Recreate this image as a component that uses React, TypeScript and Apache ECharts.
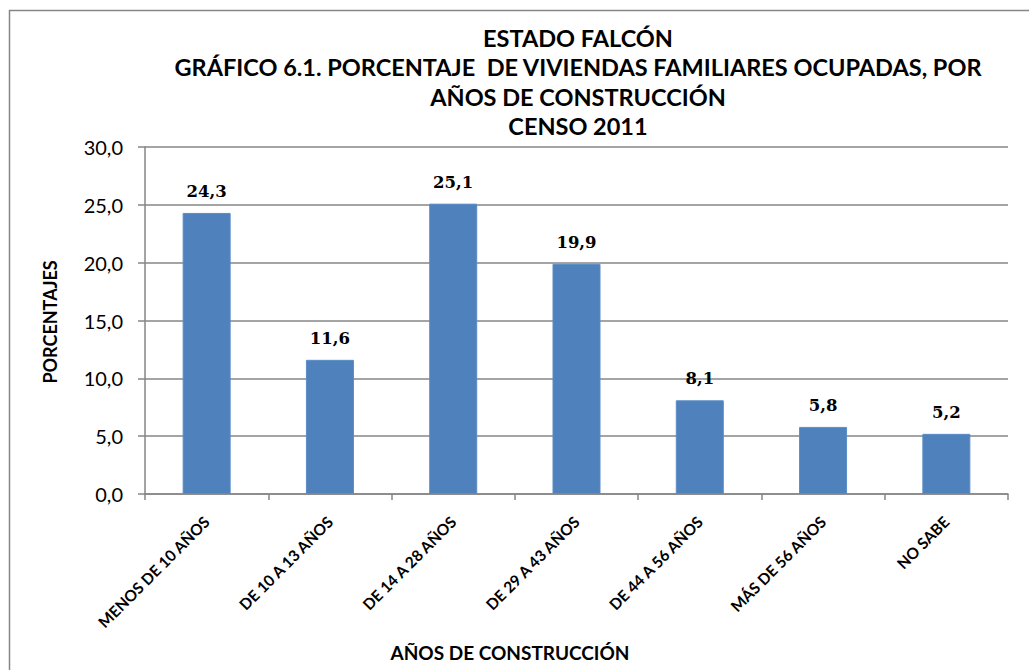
import React, { useEffect, useRef } from "react";
import * as echarts from "echarts";

const categories = [
  "MENOS DE 10 AÑOS",
  "DE 10 A 13 AÑOS",
  "DE 14 A 28 AÑOS",
  "DE 29 A 43 AÑOS",
  "DE 44 A 56 AÑOS",
  "MÁS DE 56 AÑOS",
  "NO SABE",
];
const values = [24.3, 11.6, 25.1, 19.9, 8.1, 5.8, 5.2];
const titleLines = [
  "ESTADO FALCÓN",
  "GRÁFICO 6.1. PORCENTAJE  DE VIVIENDAS FAMILIARES OCUPADAS, POR",
  "AÑOS DE CONSTRUCCIÓN",
  "CENSO 2011",
];
const yAxisName = "PORCENTAJES";
const xAxisName = "AÑOS DE CONSTRUCCIÓN";

const fmt = (v: number) => v.toFixed(1).replace(".", ",");

export default function App() {
  const ref = useRef<HTMLDivElement>(null);
  useEffect(() => {
    document.body.style.margin = "0";
    const chart = echarts.init(ref.current!, undefined, { renderer: "svg" });
    const font = "Lato, 'Open Sans', sans-serif";
    chart.setOption({
      animation: false,
      backgroundColor: "#ffffff",
      title: {
        text: titleLines.join("\n"),
        left: 573,
        textAlign: "center",
        top: 18,
        textStyle: {
          fontFamily: font,
          fontWeight: "bold",
          fontSize: 23.5,
          lineHeight: 29.5,
          color: "#000",
        },
      },
      graphic: [
        {
          type: "rect",
          shape: { x: 9.5, y: 10.5, width: 1100, height: 800 },
          style: { fill: "none", stroke: "#868686", lineWidth: 1.5 },
          silent: true,
        },
        {
          type: "text",
          x: 50,
          y: 322,
          rotation: Math.PI / 2,
          style: {
            text: yAxisName,
            fontFamily: font,
            fontWeight: "bold",
            fontSize: 18,
            fill: "#000",
            align: "center",
            verticalAlign: "middle",
          },
        },
        {
          type: "text",
          x: 510,
          y: 652,
          style: {
            text: xAxisName,
            fontFamily: font,
            fontWeight: "bold",
            fontSize: 19,
            fill: "#000",
            align: "center",
            verticalAlign: "middle",
          },
        },
      ],
      grid: { left: 145, right: 21, top: 147, bottom: 176 },
      xAxis: {
        type: "category",
        data: categories,
        axisLine: { lineStyle: { color: "#868686", width: 1.5 } },
        axisTick: { show: true, length: 6, alignWithLabel: false, lineStyle: { color: "#868686", width: 1.5 } },
        axisLabel: {
          rotate: 45,
          interval: 0,
          margin: 25,
          fontFamily: font,
          fontWeight: "bold",
          fontSize: 15.5,
          color: "#000",
        },
      },
      yAxis: {
        type: "value",
        min: 0,
        max: 30,
        interval: 5,
        axisLine: { show: true, lineStyle: { color: "#868686", width: 1.5 } },
        axisTick: { show: true, length: 7, lineStyle: { color: "#868686", width: 1.5 } },
        splitLine: { lineStyle: { color: "#868686", width: 1.5 } },
        axisLabel: {
          formatter: (v: number) => fmt(v),
          margin: 22,
          fontFamily: font,
          fontSize: 20,
          color: "#000",
        },
      },
      series: [
        {
          type: "bar",
          data: values,
          barWidth: 48,
          itemStyle: { color: "#4F81BD", borderColor: "#5B8CC6", borderWidth: 1 },
          label: {
            show: true,
            position: "top",
            distance: 13,
            formatter: (p: any) => fmt(p.value),
            fontFamily: "'DejaVu Serif', serif",
            fontWeight: "bold",
            fontSize: 16.5,
            color: "#000",
          },
        },
      ],
    });
    return () => chart.dispose();
  }, []);
  return <div ref={ref} style={{ width: 1029, height: 670 }} />;
}
